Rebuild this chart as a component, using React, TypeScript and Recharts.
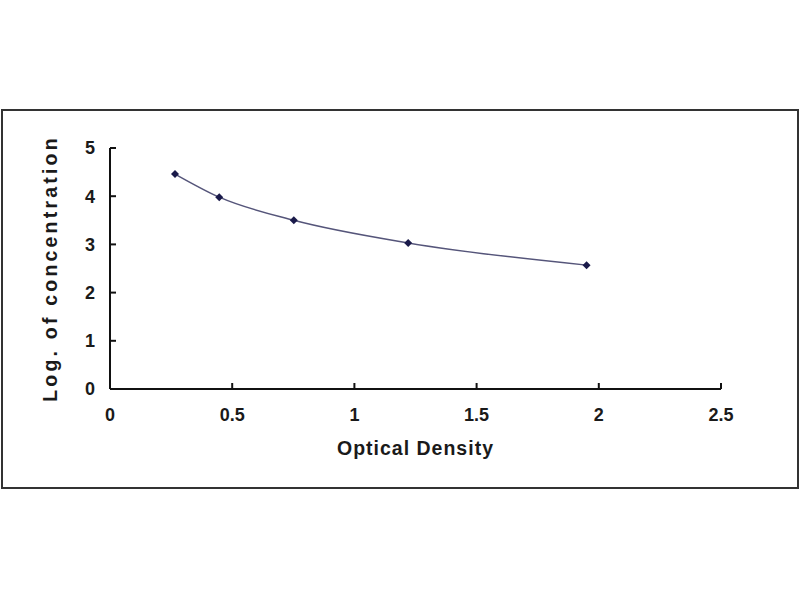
import React from "react";
import { Line, LineChart, XAxis, YAxis, Label } from "recharts";

const opticalDensity = [0.266, 0.447, 0.752, 1.22, 1.95];
const logConcentration = [4.46, 3.98, 3.5, 3.03, 2.57];
const xTicks = [0, 0.5, 1, 1.5, 2, 2.5];
const yTicks = [0, 1, 2, 3, 4, 5];

const data = opticalDensity.map((od, i) => ({ od, conc: logConcentration[i] }));

const font = "'Liberation Sans', Arial, sans-serif";
const tickStyle = { fill: "#1a1a1a", fontSize: 18, fontWeight: 700, fontFamily: font };

function Diamond({ cx, cy }: { cx?: number; cy?: number }) {
  if (cx == null || cy == null) return null;
  const r = 4;
  return <path d={`M${cx},${cy - r}L${cx + r},${cy}L${cx},${cy + r}L${cx - r},${cy}Z`} fill="#1a1a4a" />;
}

export default function App() {
  return (
    <div style={{ position: "relative", width: 800, height: 600, background: "#fff" }}>
      <style>{`body { margin: 0; }`}</style>
      <div
        style={{
          position: "absolute",
          left: 1,
          top: 109,
          width: 794,
          height: 376,
          border: "2px solid #333",
        }}
      />
      <div style={{ position: "absolute", left: 0, top: 0 }}>
        <LineChart width={800} height={600} data={data} margin={{ top: 148, right: 79, bottom: 141, left: 30 }}>
          <XAxis
            type="number"
            dataKey="od"
            domain={[0, 2.5]}
            ticks={xTicks}
            height={70}
            stroke="#111"
            strokeWidth={2}
            tickSize={-6}
            tickMargin={25}
            tick={tickStyle}
            interval={0}
          >
            <Label
              value="Optical Density"
              position="insideBottom"
              offset={4}
              style={{ fill: "#1a1a1a", fontSize: 19.5, fontWeight: 700, fontFamily: font, letterSpacing: 1 }}
            />
          </XAxis>
          <YAxis
            type="number"
            domain={[0, 5]}
            ticks={yTicks}
            width={80}
            stroke="#111"
            strokeWidth={2}
            tickSize={-6}
            tickMargin={21}
            tick={tickStyle}
            interval={0}
          >
            <Label
              value="Log. of concentration"
              angle={-90}
              position="insideLeft"
              offset={20}
              style={{ fill: "#1a1a1a", fontSize: 19.5, fontWeight: 700, fontFamily: font, letterSpacing: 3.2, textAnchor: "middle" }}
            />
          </YAxis>
          <Line
            type="monotone"
            dataKey="conc"
            stroke="#55557a"
            strokeWidth={1.5}
            dot={<Diamond />}
            activeDot={false}
            isAnimationActive={false}
          />
        </LineChart>
      </div>
    </div>
  );
}
